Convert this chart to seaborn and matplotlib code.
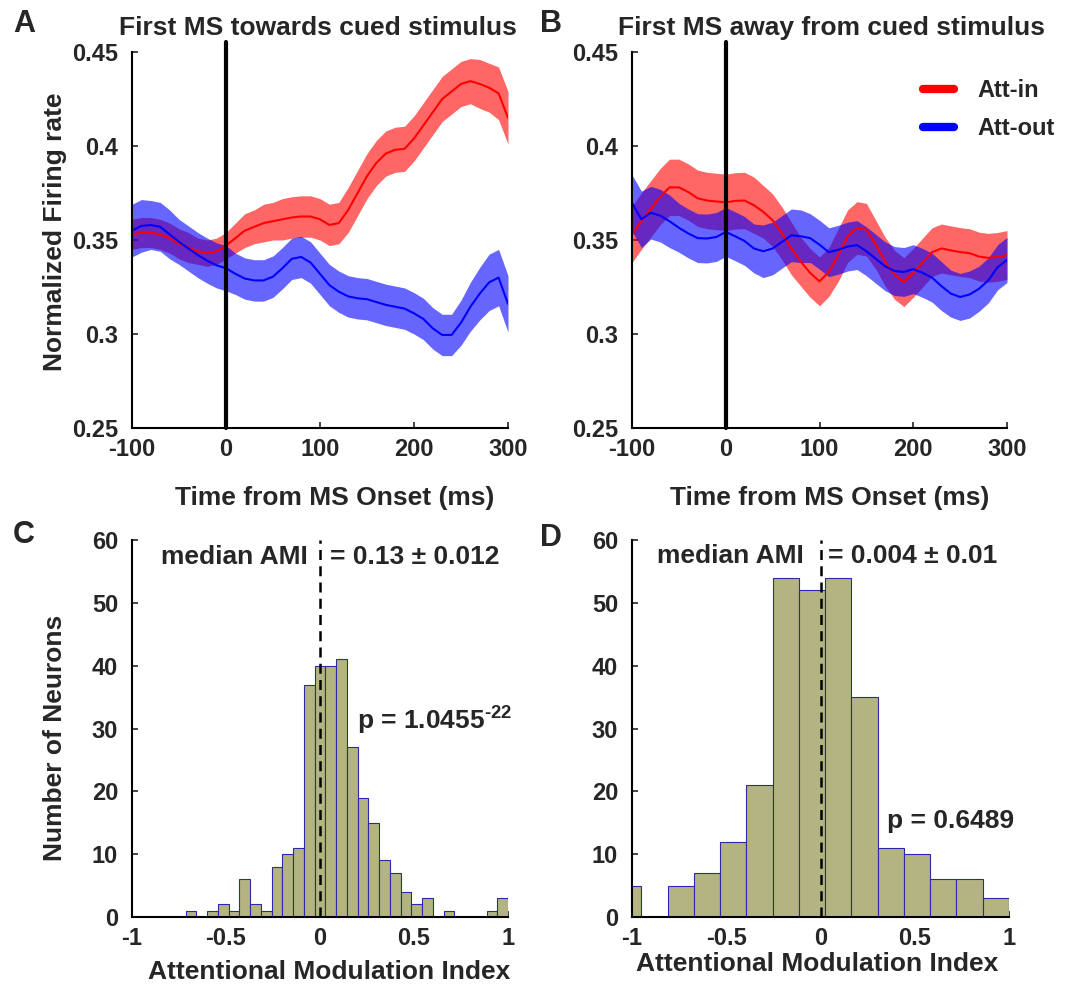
import numpy as np
import pandas as pd
import matplotlib
matplotlib.use("Agg")
import matplotlib.pyplot as plt
from matplotlib.lines import Line2D
import seaborn as sns

# ---------------- data ----------------
time_ms = [-100, -90, -80, -70, -60, -50, -40, -30, -20, -10, 0, 10, 20, 30, 40,
           50, 60, 70, 80, 90, 100, 110, 120, 130, 140, 150, 160, 170, 180, 190,
           200, 210, 220, 230, 240, 250, 260, 270, 280, 290, 300]

# Panel A: first microsaccade towards the cued stimulus
a_in_mean = [0.353, 0.354, 0.354, 0.353, 0.351, 0.348, 0.346, 0.344, 0.343, 0.344,
             0.347, 0.351, 0.355, 0.357, 0.359, 0.360, 0.361, 0.362, 0.3625, 0.3625,
             0.361, 0.358, 0.359, 0.366, 0.375, 0.384, 0.391, 0.396, 0.398, 0.3985,
             0.404, 0.411, 0.418, 0.425, 0.429, 0.433, 0.4345, 0.433, 0.431, 0.428, 0.415]
a_in_sem = [0.008, 0.008, 0.008, 0.008, 0.008, 0.008, 0.008, 0.007, 0.007, 0.007,
            0.007, 0.008, 0.009, 0.009, 0.010, 0.010, 0.011, 0.011, 0.011, 0.011,
            0.011, 0.011, 0.011, 0.012, 0.012, 0.012, 0.012, 0.012, 0.012, 0.012,
            0.012, 0.012, 0.012, 0.012, 0.012, 0.012, 0.012, 0.013, 0.013, 0.014, 0.014]
a_out_mean = [0.355, 0.3575, 0.358, 0.357, 0.353, 0.349, 0.3455, 0.342, 0.339, 0.3365,
              0.335, 0.332, 0.3295, 0.3285, 0.3285, 0.3305, 0.335, 0.340, 0.341, 0.338,
              0.332, 0.326, 0.3225, 0.320, 0.319, 0.3185, 0.317, 0.3155, 0.3145, 0.3135,
              0.311, 0.308, 0.303, 0.2995, 0.2995, 0.306, 0.3145, 0.3215, 0.3275, 0.330, 0.316]
a_out_sem = [0.014, 0.014, 0.013, 0.013, 0.013, 0.012, 0.012, 0.012, 0.012, 0.012,
             0.012, 0.011, 0.011, 0.011, 0.011, 0.011, 0.011, 0.011, 0.011, 0.011,
             0.011, 0.011, 0.011, 0.011, 0.011, 0.011, 0.011, 0.011, 0.011, 0.011,
             0.011, 0.011, 0.011, 0.011, 0.011, 0.012, 0.013, 0.014, 0.015, 0.015, 0.015]

# Panel B: first microsaccade away from the cued stimulus
b_in_mean = [0.353, 0.360, 0.3665, 0.373, 0.378, 0.378, 0.3755, 0.3722, 0.371, 0.3705,
             0.370, 0.3708, 0.371, 0.3685, 0.365, 0.3605, 0.3535, 0.3455, 0.3385, 0.3325,
             0.328, 0.333, 0.342, 0.352, 0.3564, 0.3555, 0.3475, 0.3385, 0.3315, 0.3276,
             0.3325, 0.338, 0.3435, 0.3455, 0.3445, 0.3436, 0.343, 0.3412, 0.3405, 0.341, 0.342]
b_in_sem = [0.015, 0.015, 0.015, 0.015, 0.015, 0.015, 0.015, 0.015, 0.015, 0.015,
            0.015, 0.015, 0.015, 0.015, 0.014, 0.014, 0.014, 0.014, 0.013, 0.013,
            0.013, 0.013, 0.014, 0.014, 0.014, 0.014, 0.013, 0.013, 0.013, 0.013,
            0.013, 0.013, 0.013, 0.013, 0.013, 0.013, 0.013, 0.013, 0.013, 0.013, 0.013]
b_out_mean = [0.3697, 0.361, 0.3645, 0.363, 0.360, 0.3565, 0.3535, 0.351, 0.3508, 0.3516,
              0.3543, 0.352, 0.3495, 0.3455, 0.344, 0.3455, 0.349, 0.3525, 0.352, 0.351,
              0.3475, 0.3435, 0.3448, 0.3465, 0.3473, 0.344, 0.340, 0.336, 0.3335, 0.333,
              0.3345, 0.3325, 0.330, 0.3255, 0.3215, 0.3197, 0.321, 0.324, 0.3285, 0.3355, 0.3394]
b_out_sem = [0.015, 0.015, 0.014, 0.014, 0.014, 0.013, 0.013, 0.013, 0.013, 0.013,
             0.013, 0.013, 0.013, 0.013, 0.014, 0.014, 0.014, 0.014, 0.014, 0.013,
             0.013, 0.013, 0.013, 0.013, 0.013, 0.013, 0.013, 0.013, 0.013, 0.013,
             0.013, 0.013, 0.013, 0.013, 0.0125, 0.0125, 0.0125, 0.012, 0.012, 0.012, 0.012]

# Panel C: AMI histogram (35 bins over [-1, 1], first five bins empty)
c_edges = [float(v) for v in np.linspace(-1, 1, 36)[5:]]
c_counts = [1, 0, 1, 2, 1, 6, 2, 1, 8, 10, 11, 37, 40, 40, 41, 27, 19, 15, 9, 7,
            4, 2, 3, 0, 1, 0, 0, 0, 1, 3]

# Panel D: AMI histogram (15 bins spanning -1.09 .. 1.0)
d_edges = [float(v) for v in np.linspace(-1.09, 1.0, 16)]
d_counts = [5, 0, 5, 7, 12, 21, 54, 52, 54, 35, 11, 10, 6, 6, 3]

fr_ticks = [0.25, 0.3, 0.35, 0.4, 0.45]
fr_ticklabels = ["0.25", "0.3", "0.35", "0.4", "0.45"]
time_ticks = [-100, 0, 100, 200, 300]
ami_ticks = [-1, -0.5, 0, 0.5, 1]
ami_ticklabels = ["-1", "-0.5", "0", "0.5", "1"]
count_ticks = [0, 10, 20, 30, 40, 50, 60]

# ---------------- style ----------------
sns.set_style("ticks")
plt.rcParams["font.family"] = ["Liberation Sans", "DejaVu Sans"]
plt.rcParams["font.weight"] = "bold"
plt.rcParams["axes.unicode_minus"] = False
plt.rcParams["mathtext.fontset"] = "custom"
plt.rcParams["mathtext.rm"] = "Liberation Sans:bold"
plt.rcParams["mathtext.bf"] = "Liberation Sans:bold"

RED = "#ff0000"
BLUE = "#0000ff"
BAR_FACE = "#b4b482"
BAR_EDGE = "#2a2aa8"
TICK_FS = 17
LABEL_FS = 19
NOTE_FS = 19

W, H = 1065, 986
fig = plt.figure(figsize=(W / 100, H / 100), dpi=100)


def px_axes(left, top, right, bottom):
    return fig.add_axes([left / W, 1 - bottom / H, (right - left) / W, (bottom - top) / H])


def style_axes(ax):
    for side in ("top", "right"):
        ax.spines[side].set_visible(False)
    for side in ("left", "bottom"):
        ax.spines[side].set_linewidth(1.5)
        ax.spines[side].set_color("black")
    ax.tick_params(direction="in", length=4, width=1.2, labelsize=TICK_FS)
    ax.tick_params(axis="y", pad=10)
    ax.tick_params(axis="x", pad=7)
    for lab in ax.get_xticklabels() + ax.get_yticklabels():
        lab.set_fontweight("bold")


def firing_panel(ax, in_mean, in_sem, out_mean, out_sem):
    t = np.array(time_ms)
    for mean, sem, col in ((in_mean, in_sem, RED), (out_mean, out_sem, BLUE)):
        m = np.array(mean)
        s = np.array(sem)
        ax.fill_between(t, m - s, m + s, color=col, alpha=0.6, lw=0)
        sns.lineplot(x=t, y=m, ax=ax, color=col, lw=1.5)
    ax.plot([0, 0], [0.25, 0.4555], color="black", lw=3, clip_on=False, zorder=5)
    ax.set_xlim(-100, 300)
    ax.set_ylim(0.25, 0.45)
    ax.set_xticks(time_ticks)
    ax.set_xticklabels([str(v) for v in time_ticks])
    ax.set_yticks(fr_ticks)
    ax.set_yticklabels(fr_ticklabels)
    ax.set_xlabel("Time from MS Onset (ms)", fontsize=LABEL_FS, fontweight="bold")
    ax.set_ylabel("")
    style_axes(ax)


def ami_panel(ax, edges, counts):
    e = np.array(edges)
    df = pd.DataFrame({"ami": (e[:-1] + e[1:]) / 2, "n": counts})
    sns.histplot(data=df, x="ami", weights="n", bins=list(edges), ax=ax, color=BAR_FACE,
                 edgecolor=BAR_EDGE, linewidth=0.8, alpha=1.0)
    ax.plot([0, 0], [0, 60], color="black", lw=1.8, ls=(0, (4, 2.5)), zorder=5)
    ax.set_xlim(-1, 1)
    ax.set_ylim(0, 60)
    ax.set_xticks(ami_ticks)
    ax.set_xticklabels(ami_ticklabels)
    ax.set_yticks(count_ticks)
    ax.set_yticklabels([str(v) for v in count_ticks])
    ax.set_xlabel("Attentional Modulation Index", fontsize=LABEL_FS, fontweight="bold")
    ax.set_ylabel("")
    style_axes(ax)


# ---- A ----
axA = px_axes(132, 52, 508, 428)
firing_panel(axA, a_in_mean, a_in_sem, a_out_mean, a_out_sem)
axA.set_ylabel("Normalized Firing rate", fontsize=LABEL_FS, fontweight="bold")
axA.yaxis.set_label_coords(-0.173, 0.521)
axA.xaxis.set_label_coords(0.54, -0.155)

# ---- B ----
axB = px_axes(632, 52, 1007, 428)
firing_panel(axB, b_in_mean, b_in_sem, b_out_mean, b_out_sem)
axB.xaxis.set_label_coords(0.528, -0.155)
handles = [Line2D([], [], color=RED, lw=6), Line2D([], [], color=BLUE, lw=6)]
axB.legend(handles, ["Att-in", "Att-out"], loc="upper left", bbox_to_anchor=(0.72, 0.985),
           frameon=False, handlelength=1.3, handletextpad=1.0, labelspacing=0.65,
           prop={"size": 17, "weight": "bold"})

# ---- C ----
axC = px_axes(132, 540, 508, 917)
ami_panel(axC, c_edges, c_counts)
axC.set_ylabel("Number of Neurons", fontsize=LABEL_FS, fontweight="bold")
axC.yaxis.set_label_coords(-0.173, 0.475)
axC.xaxis.set_label_coords(0.524, -0.115)
axC.text(-0.065, 57.3, "median AMI", ha="right", va="center", fontsize=NOTE_FS, fontweight="bold")
axC.text(0.055, 57.3, "= 0.13 ± 0.012", ha="left", va="center", fontsize=NOTE_FS, fontweight="bold")
axC.text(0.197, 31.4, r"p = 1.0455$^{\text{-22}}$", ha="left", va="center",
         fontsize=NOTE_FS, fontweight="bold")

# ---- D ----
axD = px_axes(632, 540, 1009, 917)
ami_panel(axD, d_edges, d_counts)
axD.xaxis.set_label_coords(0.49, -0.092)
axD.text(-0.09, 57.4, "median AMI", ha="right", va="center", fontsize=NOTE_FS, fontweight="bold")
axD.text(0.042, 57.4, "= 0.004 ± 0.01", ha="left", va="center", fontsize=NOTE_FS, fontweight="bold")
axD.text(0.353, 15.3, "p = 0.6489", ha="left", va="center", fontsize=NOTE_FS, fontweight="bold")

# ---- titles and panel letters ----
fig.text(318 / W, 1 - 35 / H, "First MS towards cued stimulus", ha="center", va="baseline",
         fontsize=19, fontweight="bold")
fig.text(832 / W, 1 - 35 / H, "First MS away from cued stimulus", ha="center", va="baseline",
         fontsize=19, fontweight="bold")
for letter, x, y in (("A", 13, 32), ("B", 540, 32), ("C", 13, 543), ("D", 540, 546)):
    fig.text(x / W, 1 - y / H, letter, ha="left", va="baseline", fontsize=22, fontweight="bold")

fig.savefig("out.png", dpi=100, facecolor="white")
